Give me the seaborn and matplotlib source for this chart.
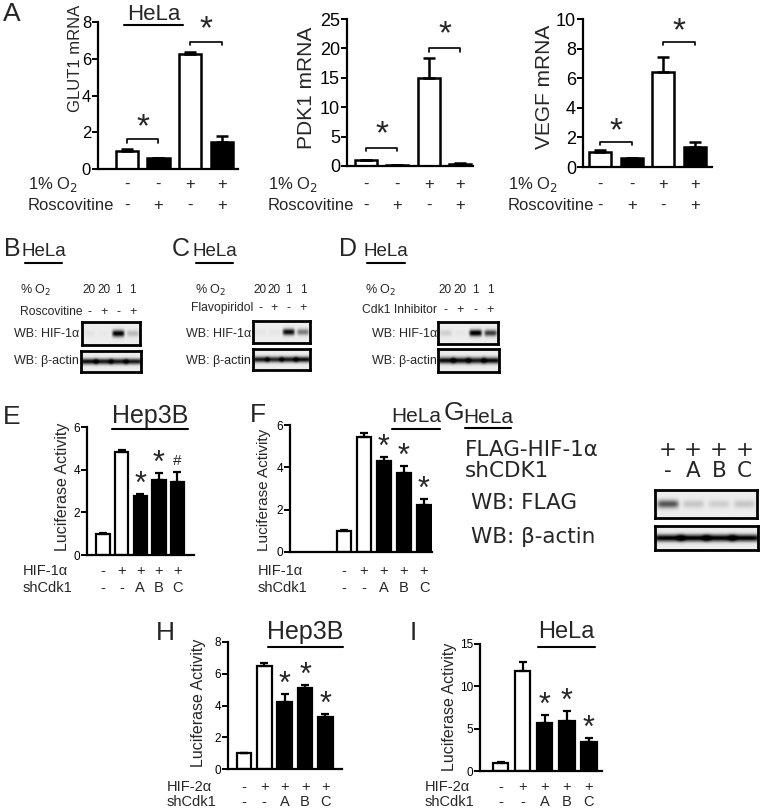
import numpy as np
import pandas as pd
import matplotlib
matplotlib.use("Agg")
import matplotlib.pyplot as plt
import seaborn as sns
from matplotlib.lines import Line2D

# ---------------- data ----------------
a_conditions = ["N", "N+R", "H", "H+R"]
o2_signs = ["-", "-", "+", "+"]
rosc_signs = ["-", "+", "-", "+"]
a_fill = ["white", "black", "white", "black"]

glut1 = [1.0, 0.6, 6.25, 1.45]
glut1_err = [0.1, 0.02, 0.1, 0.35]
glut1_sig = [1.63, 6.93]
pdk1 = [1.0, 0.2, 15.0, 0.35]
pdk1_err = [0.1, 0.05, 3.3, 0.1]
pdk1_sig = [3.1, 20.0]
vegf = [1.0, 0.6, 6.4, 1.35]
vegf_err = [0.15, 0.03, 1.05, 0.35]
vegf_sig = [1.71, 8.47]

luc_groups = ["ctrl", "HIF", "shA", "shB", "shC"]
hif_signs = ["-", "+", "+", "+", "+"]
sh_signs = ["-", "-", "A", "B", "C"]
luc_fill = ["white", "white", "black", "black", "black"]

e_vals = [1.0, 4.82, 2.78, 3.5, 3.42]
e_err = [0.03, 0.1, 0.08, 0.33, 0.48]
e_marks = ["", "", "*", "*", "#"]
f_vals = [1.0, 5.45, 4.28, 3.75, 2.2]
f_err = [0.03, 0.15, 0.2, 0.3, 0.3]
f_marks = ["", "", "*", "*", "*"]
h_vals = [1.0, 6.5, 4.25, 5.12, 3.25]
h_err = [0.03, 0.15, 0.45, 0.18, 0.2]
h_marks = ["", "", "*", "*", "*"]
i_vals = [1.0, 11.8, 5.7, 5.9, 3.4]
i_err = [0.08, 1.1, 0.9, 1.2, 0.45]
i_marks = ["", "", "*", "*", "*"]

o2_pct = ["20", "20", "1", "1"]
drug_signs = ["-", "+", "-", "+"]
b_hif = [0.04, 0.02, 0.95, 0.2]
b_actin = [0.9, 0.85, 0.85, 0.85]
c_hif = [0.03, 0.03, 0.9, 0.45]
c_actin = [0.85, 0.8, 0.85, 0.9]
d_hif = [0.12, 0.03, 1.0, 0.7]
d_actin = [0.9, 0.9, 0.85, 0.9]
flag_signs = ["+", "+", "+", "+"]
shcdk1_g = ["-", "A", "B", "C"]
g_flag = [0.6, 0.15, 0.12, 0.15]
g_actin = [0.95, 0.95, 0.95, 0.95]

# ---------------- setup ----------------
W, H = 762, 809
sns.set_theme(style="ticks")
FAM = ["Liberation Sans", "DejaVu Sans"]
WIDE = ["DejaVu Sans", "Liberation Sans"]
plt.rcParams["font.family"] = FAM
fig = plt.figure(figsize=(W / 100, H / 100), dpi=100)


def ax_px(l, t, r, b):
    return fig.add_axes([l / W, 1 - b / H, (r - l) / W, (b - t) / H])


def ftext(x, y, s, size=11, ha="left", va="center", family=None, **kw):
    fig.text(x / W, 1 - y / H, s, fontsize=size, ha=ha, va=va,
             family=family or FAM, **kw)


def fline(x0, x1, y, lw=1.5):
    fig.add_artist(Line2D([x0 / W, x1 / W], [1 - y / H, 1 - y / H],
                          color="black", lw=lw))


def bar_panel(box, labels, vals, errs, fills, ylim, yticks, xlim, width,
              tick_fs, lw, capsize):
    ax = ax_px(*box)
    df = pd.DataFrame({"cond": labels, "val": vals})
    sns.barplot(data=df, x="cond", y="val", hue="cond",
                palette=dict(zip(labels, fills)), legend=False,
                edgecolor="black", linewidth=lw, width=width, ax=ax,
                errorbar=None, saturation=1)
    ax.errorbar(np.arange(len(vals)), vals,
                yerr=[np.zeros(len(vals)), errs], fmt="none",
                ecolor="black", elinewidth=lw, capsize=capsize,
                capthick=lw, zorder=1)
    ax.set_xlim(*xlim)
    ax.set_ylim(*ylim)
    ax.set_yticks(yticks)
    ax.set_xticks([])
    ax.set_xlabel("")
    ax.set_ylabel("")
    sns.despine(ax=ax)
    for s in ["left", "bottom"]:
        ax.spines[s].set_linewidth(1.6)
        ax.spines[s].set_color("black")
    ax.tick_params(axis="y", labelsize=tick_fs, length=4, width=1.4,
                   pad=1, colors="black")
    ax.set_facecolor("none")
    return ax


def bar_x_px(box, xlim, i):
    l, t, r, b = box
    return l + (i - xlim[0]) / (xlim[1] - xlim[0]) * (r - l)


def sign_rows(box, xlim, rows, ys, label_x, size=10, lab_size=10):
    for (name, signs), y in zip(rows, ys):
        ftext(label_x, y, name, size=lab_size)
        for i, s in enumerate(signs):
            ftext(bar_x_px(box, xlim, i), y, s, size=size, ha="center")


def bracket(ax, i0, i1, y, d, star_y):
    ax.plot([i0, i0, i1, i1], [y - d, y, y, y - d], color="black", lw=1.2,
            clip_on=False)
    ax.text((i0 + i1) / 2, star_y, "*", ha="center", va="center",
            fontsize=24, clip_on=False)


def marks(ax, vals, errs, mk, size=22):
    for i, m in enumerate(mk):
        if m:
            ax.annotate(m, xy=(i, vals[i] + errs[i]),
                        xytext=(0, -4 if m == "*" else 3),
                        textcoords="offset points", ha="center", va="bottom",
                        fontsize=size if m == "*" else 11,
                        annotation_clip=False)


def blot(box, intens, thick=0.35, spread=0.42):
    ax = ax_px(*box)
    n = len(intens)
    h, w = 40, 60 * n
    yy = np.linspace(-1, 1, h)[:, None]
    xs = np.arange(w)
    img = np.full((h, w), 0.07)
    for i, v in enumerate(intens):
        cx = (i + 0.5) * w / n
        px = np.exp(-((xs - cx) / (spread * w / n)) ** 6)
        py = np.exp(-(yy / thick) ** 2)
        img += v * py * px[None, :]
    ax.imshow(np.clip(img, 0, 1), cmap="gray_r", vmin=0, vmax=1,
              aspect="auto", interpolation="bilinear")
    ax.set_xticks([])
    ax.set_yticks([])
    for s in ax.spines.values():
        s.set_linewidth(2)
        s.set_color("black")
    return ax


# ---------------- Panel A ----------------
a_boxes = [(98, 22, 238, 169), (347, 19, 473, 166), (583, 19, 712, 167)]
a_xlims = [(-0.9, 3.5), (-0.6, 3.4), (-0.54, 3.54)]
a_data = [(glut1, glut1_err, glut1_sig, (0, 8), [0, 2, 4, 6, 8], "GLUT1 mRNA", (75, 58), 12, 12, [2.25, 7.6]),
          (pdk1, pdk1_err, pdk1_sig, (0, 25), [0, 5, 10, 15, 20, 25], "PDK1 mRNA", (306, 88), 15, 13, [5.3, 22.3]),
          (vegf, vegf_err, vegf_sig, (0, 10), [0, 2, 4, 6, 8, 10], "VEGF mRNA", (545, 87), 15, 13, [2.4, 9.15])]
a_label_x = [28, 268, 508]
for box, xl, (v, e, sig, yl, yt, ylab, ylpos, ylfs, tfs, stars), lx in zip(a_boxes, a_xlims, a_data, a_label_x):
    ax = bar_panel(box, a_conditions, v, e, a_fill, yl, yt, xl, 0.7, tfs, 1.8, 4.5)
    d = (yl[1] - yl[0]) * 0.025
    bracket(ax, 0, 1, sig[0], d, stars[0])
    bracket(ax, 2, 3, sig[1], d, stars[1])
    ftext(ylpos[0], ylpos[1], ylab, size=ylfs, ha="center", rotation=90)
    sign_rows(box, xl, [("1% O$_2$", o2_signs), ("Roscovitine", rosc_signs)],
              [184, 205], lx, size=12, lab_size=12)

ftext(3, 14, "A", size=19)
ftext(154, 14, "HeLa", size=16, ha="center")
fline(124, 183, 25, lw=1.5)

# ---------------- Panels B, C, D ----------------
bcd = [
    dict(letter="B", lx=4, hx=(25, 62), o2x=20, drug="Roscovitine", drugx=20, dy=312,
         lanes=(82, 140), wbx=14, hifbox=(82, 322, 140, 345), actbox=(81, 351, 141, 372),
         hif=b_hif, act=b_actin),
    dict(letter="C", lx=172, hx=(196, 233), o2x=195, drug="Flavopiridol", drugx=191, dy=308,
         lanes=(253, 310), wbx=186, hifbox=(253, 321, 310, 343), actbox=(253, 349, 310, 370),
         hif=c_hif, act=c_actin),
    dict(letter="D", lx=339, hx=(367, 405), o2x=365, drug="Cdk1 Inhibitor", drugx=362, dy=310,
         lanes=(438, 498), wbx=372, hifbox=(438, 322, 498, 344), actbox=(438, 349, 499, 372),
         hif=d_hif, act=d_actin),
]
TS = 9
for p in bcd:
    ftext(p["lx"], 249, p["letter"], size=18)
    ftext((p["hx"][0] + p["hx"][1]) / 2, 251, "HeLa", size=13.5, ha="center")
    fline(p["hx"][0], p["hx"][1], 263, lw=1.5)
    ftext(p["o2x"], 290, "% O$_2$", size=TS)
    l0, l1 = p["lanes"]
    step = (l1 - l0) / 4
    for i in range(4):
        cx = l0 + step * (i + 0.5)
        ftext(cx, 290, o2_pct[i], size=TS - 0.5, ha="center")
        ftext(cx, p["dy"], drug_signs[i], size=TS, ha="center")
    ftext(p["drugx"], p["dy"], p["drug"], size=TS - 0.3)
    ftext(p["wbx"], 334, "WB: HIF-1α", size=TS)
    ftext(p["wbx"], 361, "WB: β-actin", size=TS)
    blot(p["hifbox"], p["hif"], thick=0.3)
    blot(p["actbox"], p["act"], thick=0.28, spread=0.6)

# ---------------- Panels E, F ----------------
e_box = (87, 427, 194, 555)
e_xl = (-0.86, 4.89)
ax = bar_panel(e_box, luc_groups, e_vals, e_err, luc_fill, (0, 6), [0, 2, 4, 6], e_xl, 0.72, 8.5, 1.6, 3)
marks(ax, e_vals, e_err, e_marks)
ftext(62, 487, "Luciferase Activity", size=11.5, ha="center", rotation=90)
ftext(150, 416, "Hep3B", size=18, ha="center")
fline(112, 188, 429, lw=1.5)
ftext(3, 417, "E", size=19)
sign_rows(e_box, e_xl, [("HIF-1α", hif_signs), ("shCdk1", sh_signs)], [571, 588], 23, size=10.5, lab_size=10.5)

f_box = (290, 425, 432, 552)
f_xl = (-2.7, 4.4)
ax = bar_panel(f_box, luc_groups, f_vals, f_err, luc_fill, (0, 6), [0, 2, 4, 6], f_xl, 0.68, 8.5, 1.6, 3)
marks(ax, f_vals, f_err, f_marks)
ftext(264, 490, "Luciferase Activity", size=11, ha="center", rotation=90)
ftext(416, 416, "HeLa", size=15, ha="center")
fline(392, 440, 429, lw=1.5)
ftext(250, 415, "F", size=19)
sign_rows(f_box, f_xl, [("HIF-1α", hif_signs), ("shCdk1", sh_signs)], [571, 588], 258, size=10.5, lab_size=10.5)

# ---------------- Panel G ----------------
ftext(444, 413, "G", size=19)
ftext(488, 417, "HeLa", size=15, ha="center")
fline(465, 511, 428, lw=1.5)
g_l0, g_l1 = 655, 757
g_step = (g_l1 - g_l0) / 4
GS = 15.5
ftext(465, 450, "FLAG-HIF-1α", size=GS, family=WIDE)
ftext(465, 471, "shCDK1", size=GS, family=WIDE)
for i in range(4):
    cx = g_l0 + g_step * (i + 0.5)
    ftext(cx, 450, flag_signs[i], size=GS, ha="center", family=WIDE)
    ftext(cx, 471, shcdk1_g[i], size=GS, ha="center", family=WIDE)
ftext(471, 503, "WB: FLAG", size=GS, family=WIDE)
ftext(471, 537, "WB: β-actin", size=GS, family=WIDE)
blot((655, 490, 757, 518), g_flag, thick=0.3)
blot((655, 526, 758, 550), g_actin, thick=0.3, spread=0.6)

# ---------------- Panels H, I ----------------
h_box = (228, 642, 342, 769)
h_xl = (-0.78, 4.81)
ax = bar_panel(h_box, luc_groups, h_vals, h_err, luc_fill, (0, 8), [0, 2, 4, 6, 8], h_xl, 0.71, 8.5, 1.6, 3)
marks(ax, h_vals, h_err, h_marks)
ftext(198, 703, "Luciferase Activity", size=11.5, ha="center", rotation=90)
ftext(305, 632, "Hep3B", size=18, ha="center")
fline(268, 343, 647, lw=1.5)
ftext(156, 633, "H", size=19)
sign_rows(h_box, h_xl, [("HIF-2α", hif_signs), ("shCdk1", sh_signs)], [787, 802], 167, size=10.5, lab_size=10.5)

i_box = (480, 644, 602, 771)
i_xl = (-0.93, 4.59)
ax = bar_panel(i_box, luc_groups, i_vals, i_err, luc_fill, (0, 15), [0, 5, 10, 15], i_xl, 0.7, 8.5, 1.6, 3)
marks(ax, i_vals, i_err, i_marks)
ftext(450, 707, "Luciferase Activity", size=11.5, ha="center", rotation=90)
ftext(566, 632, "HeLa", size=17, ha="center")
fline(538, 595, 647, lw=1.5)
ftext(410, 633, "I", size=19)
sign_rows(i_box, i_xl, [("HIF-2α", hif_signs), ("shCdk1", sh_signs)], [787, 802], 425, size=10.5, lab_size=10.5)

fig.savefig("out.png", dpi=100, facecolor="white")
